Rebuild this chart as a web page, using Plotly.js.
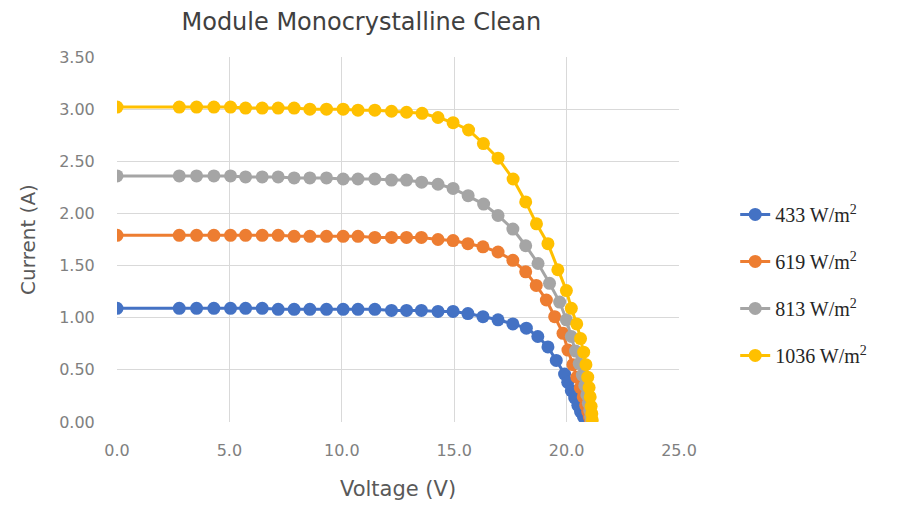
<!DOCTYPE html>
<html>
<head>
<meta charset="utf-8">
<script src="https://cdn.plot.ly/plotly-3.0.1.min.js"></script>
<style>html,body{margin:0;padding:0;background:#fff;}#chart{width:899px;height:505px;}</style>
</head>
<body>
<div id="chart"></div>
<script>
// Series names
const seriesNames = ["433 W/m<sup>2</sup>", "619 W/m<sup>2</sup>", "813 W/m<sup>2</sup>", "1036 W/m<sup>2</sup>"];

// 433 W/m2
const v433 = [0, 2.77, 3.54, 4.31, 5.05, 5.72, 6.46, 7.17, 7.88, 8.58, 9.32, 10.06, 10.72, 11.47, 12.21, 12.88, 13.54, 14.28, 14.95, 15.61, 16.28, 16.95, 17.61, 18.21, 18.72, 19.17, 19.54, 19.91, 20.05, 20.21, 20.36, 20.5, 20.62, 20.75, 20.88];
const i433 = [1.09, 1.09, 1.09, 1.09, 1.09, 1.09, 1.09, 1.08, 1.08, 1.08, 1.08, 1.08, 1.08, 1.08, 1.07, 1.07, 1.07, 1.06, 1.06, 1.04, 1.01, 0.98, 0.94, 0.90, 0.82, 0.72, 0.59, 0.46, 0.38, 0.30, 0.23, 0.16, 0.10, 0.05, 0.01];

// 619 W/m2
const v619 = [0, 2.77, 3.54, 4.31, 5.05, 5.72, 6.46, 7.17, 7.88, 8.58, 9.32, 10.06, 10.72, 11.47, 12.21, 12.88, 13.54, 14.28, 14.95, 15.61, 16.28, 16.95, 17.61, 18.18, 18.65, 19.10, 19.47, 19.84, 20.06, 20.28, 20.46, 20.61, 20.74, 20.85, 20.94, 21.01, 21.06, 21.10];
const i619 = [1.79, 1.79, 1.79, 1.79, 1.79, 1.79, 1.79, 1.79, 1.78, 1.78, 1.78, 1.78, 1.78, 1.77, 1.77, 1.77, 1.77, 1.75, 1.74, 1.71, 1.68, 1.63, 1.55, 1.44, 1.31, 1.17, 1.01, 0.85, 0.69, 0.55, 0.43, 0.33, 0.24, 0.16, 0.10, 0.05, 0.02, 0.00];

// 813 W/m2
const v813 = [0, 2.77, 3.54, 4.31, 5.05, 5.72, 6.46, 7.17, 7.88, 8.58, 9.32, 10.06, 10.72, 11.47, 12.21, 12.88, 13.55, 14.28, 14.95, 15.62, 16.31, 16.95, 17.61, 18.18, 18.73, 19.24, 19.69, 19.99, 20.21, 20.40, 20.56, 20.70, 20.81, 20.90, 20.97, 21.03, 21.07, 21.10];
const i813 = [2.36, 2.36, 2.36, 2.36, 2.36, 2.35, 2.35, 2.35, 2.34, 2.34, 2.34, 2.33, 2.33, 2.33, 2.32, 2.32, 2.30, 2.28, 2.24, 2.17, 2.09, 1.98, 1.85, 1.69, 1.52, 1.33, 1.15, 0.98, 0.82, 0.68, 0.56, 0.45, 0.35, 0.26, 0.18, 0.11, 0.05, 0.01];

// 1036 W/m2
const v1036 = [0, 2.77, 3.54, 4.31, 5.05, 5.72, 6.46, 7.17, 7.88, 8.58, 9.32, 10.06, 10.72, 11.47, 12.21, 12.88, 13.57, 14.28, 14.95, 15.64, 16.30, 16.95, 17.62, 18.18, 18.66, 19.17, 19.61, 19.99, 20.21, 20.45, 20.62, 20.76, 20.86, 20.94, 21.00, 21.05, 21.09, 21.12, 21.14];
const i1036 = [3.02, 3.02, 3.02, 3.02, 3.02, 3.01, 3.01, 3.01, 3.01, 3.00, 3.00, 3.00, 2.99, 2.99, 2.98, 2.97, 2.96, 2.92, 2.87, 2.80, 2.67, 2.53, 2.33, 2.11, 1.90, 1.71, 1.46, 1.26, 1.09, 0.94, 0.80, 0.67, 0.55, 0.43, 0.33, 0.24, 0.15, 0.08, 0.02];

// Axis ticks
const xTickVals = [0, 5, 10, 15, 20, 25];
const xTickText = ["0.0", "5.0", "10.0", "15.0", "20.0", "25.0"];
const yTickVals = [0, 0.5, 1, 1.5, 2, 2.5, 3, 3.5];
const yTickText = ["0.00", "0.50", "1.00", "1.50", "2.00", "2.50", "3.00", "3.50"];

const colors = ["#4472C4", "#ED7D31", "#A5A5A5", "#FFC000"];
const xs = [v433, v619, v813, v1036];
const ys = [i433, i619, i813, i1036];

const traces = xs.map((x, k) => ({
  x: x, y: ys[k], name: seriesNames[k], type: "scatter", mode: "lines+markers",
  legendgroup: "g" + k,
  line: {color: colors[k], width: 3},
  marker: {color: colors[k], size: 13}
}));

const tickFont = {family: "DejaVu Sans", size: 16, color: "#808080"};
const layout = {
  width: 899, height: 505,
  margin: {l: 117, r: 220, t: 57, b: 83},
  paper_bgcolor: "#ffffff", plot_bgcolor: "#ffffff",
  title: {text: "Module Monocrystalline Clean", font: {family: "DejaVu Sans", size: 24, color: "#404040"},
          x: 0.402, xanchor: "center", y: 0.957, yanchor: "middle", xref: "container", yref: "container"},
  xaxis: {range: [0, 25], tickvals: xTickVals, ticktext: xTickText, showgrid: true, gridcolor: "#d9d9d9", gridwidth: 1,
          zeroline: false, showline: false, ticks: "outside", ticklen: 14, tickcolor: "rgba(0,0,0,0)",
          tickfont: tickFont,
          title: {text: "Voltage (V)", font: {family: "DejaVu Sans", size: 21, color: "#595959"}, standoff: 22}},
  yaxis: {range: [0, 3.5], tickvals: yTickVals, ticktext: yTickText, showgrid: true, gridcolor: "#d9d9d9", gridwidth: 1,
          zeroline: false, showline: false, ticks: "outside", ticklen: 18, tickcolor: "rgba(0,0,0,0)",
          tickfont: tickFont,
          title: {text: "Current (A)", font: {family: "DejaVu Sans", size: 20, color: "#595959"}, standoff: 18}},
  showlegend: true,
  legend: {x: 1.10, xanchor: "left", y: 0.622, yanchor: "top", tracegroupgap: 18,
           font: {family: "Liberation Serif", size: 20, color: "#262626"}, bgcolor: "rgba(0,0,0,0)"}
};

Plotly.newPlot("chart", traces, layout, {displayModeBar: false, staticPlot: true});
</script>
</body>
</html>
